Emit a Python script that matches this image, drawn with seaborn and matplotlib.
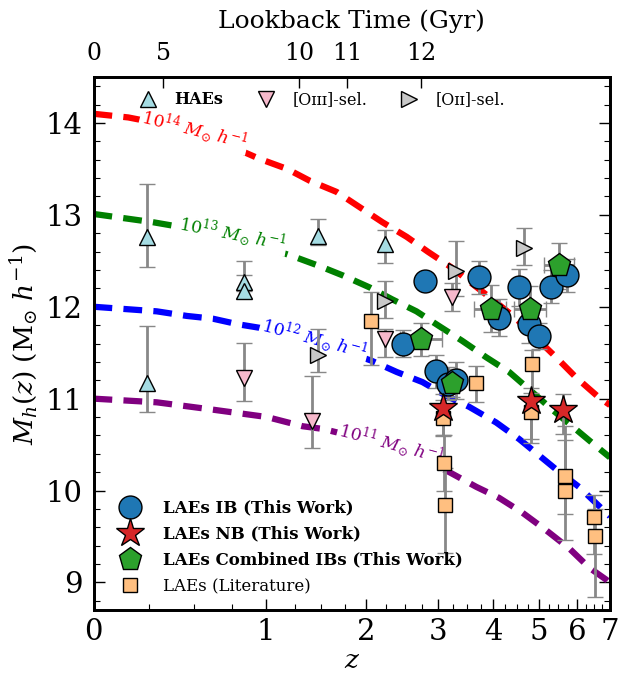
import numpy as np
import pandas as pd
import matplotlib
matplotlib.use("Agg")
import matplotlib.pyplot as plt
import seaborn as sns
from matplotlib.lines import Line2D
from matplotlib.ticker import FixedLocator, MultipleLocator, NullFormatter

# ---------------- data ----------------
# halo-mass growth tracks (log M_h vs z)
z_t14 = [0.0, 0.15, 0.5, 0.95, 1.18, 1.39, 1.66, 2.20, 2.53, 2.84, 3.22, 3.98, 4.44, 5.44, 5.98, 6.66, 7.0]
m_t14 = [14.10, 14.06, 13.92, 13.61, 13.50, 13.37, 13.25, 12.92, 12.76, 12.60, 12.43, 12.08, 11.89, 11.45, 11.23, 11.01, 10.93]
z_t13 = [0.0, 0.27, 0.75, 1.23, 1.49, 1.73, 2.04, 2.33, 2.67, 3.02, 3.41, 3.86, 4.33, 4.78, 5.34, 5.87, 6.44, 7.0]
m_t13 = [13.01, 12.92, 12.77, 12.55, 12.44, 12.34, 12.21, 12.08, 11.95, 11.79, 11.63, 11.45, 11.29, 11.10, 10.88, 10.70, 10.52, 10.36]
z_t12 = [0.0, 0.29, 0.456, 0.617, 0.787, 1.0, 1.43, 2.07, 2.39, 2.76, 3.14, 3.54, 4.06, 4.55, 5.44, 6.06, 6.75, 7.0]
m_t12 = [12.00, 11.95, 11.90, 11.87, 11.81, 11.76, 11.64, 11.41, 11.29, 11.18, 11.03, 10.91, 10.74, 10.56, 10.23, 10.04, 9.80, 9.72]
z_t11 = [0.0, 0.29, 0.617, 1.01, 1.32, 1.52, 2.3, 3.19, 3.67, 4.12, 4.62, 5.18, 5.79, 6.36, 6.88, 7.0]
m_t11 = [11.00, 10.96, 10.88, 10.80, 10.70, 10.67, 10.49, 10.20, 10.04, 9.92, 9.76, 9.57, 9.37, 9.16, 9.03, 8.99]
track_colors = ["red", "green", "blue", "purple"]
track_texts = [r"$\mathit{10^{14}\ M_{\odot}\ h^{-1}}$", r"$\mathit{10^{13}\ M_{\odot}\ h^{-1}}$",
               r"$\mathit{10^{12}\ M_{\odot}\ h^{-1}}$", r"$\mathit{10^{11}\ M_{\odot}\ h^{-1}}$"]
label_z = [0.50, 0.75, 1.43, 2.32]
label_m = [13.93, 12.80, 11.65, 10.51]
label_rot = [-14, -11, -15, -15]

# HAEs
hae_z = [0.24, 0.24, 0.83, 0.83, 1.47, 2.23]
hae_m = [12.76, 11.17, 12.27, 12.17, 12.77, 12.68]
hae_elo = [0.33, 0.32, 0.10, 0.08, 0.10, 0.20]
hae_ehi = [0.58, 0.62, 0.23, 0.17, 0.19, 0.16]
# [OIII]-selected
o3_z = [0.83, 1.41, 2.23, 3.23]
o3_m = [11.23, 10.76, 11.65, 12.11]
o3_elo = [0.26, 0.30, 0.20, 0.16]
o3_ehi = [0.38, 0.49, 0.11, 0.15]
# [OII]-selected
o2_z = [1.47, 2.23, 3.30, 4.66]
o2_m = [11.48, 12.06, 12.39, 12.64]
o2_elo = [0.19, 0.18, 0.27, 0.19]
o2_ehi = [0.28, 0.22, 0.33, 0.22]
# LAEs literature
lit_z = [2.06, 3.08, 3.10, 3.12, 3.67, 4.84, 4.82, 5.68, 5.68, 6.50, 6.53]
lit_m = [11.85, 10.79, 10.30, 9.84, 11.17, 11.38, 10.86, 10.16, 9.99, 9.71, 9.51]
lit_elo = [0.48, 0.20, 0.30, 0.52, 0.21, 0.40, 0.30, 0.42, 0.53, 0.40, 0.67]
lit_ehi = [0.31, 0.20, 0.30, 0.40, 0.19, 0.15, 0.20, 0.54, 0.56, 0.24, 0.29]
# LAEs IB (this work)
ib_z = [2.48, 2.80, 2.97, 3.16, 3.31, 3.73, 4.12, 4.55, 4.78, 5.02, 5.31, 5.74]
ib_m = [11.60, 12.28, 11.30, 11.16, 11.20, 12.32, 11.88, 12.21, 11.81, 11.68, 12.22, 12.34]
ib_err = [0.15, 0.05, 0.18, 0.18, 0.20, 0.18, 0.20, 0.20, 0.20, 0.14, 0.18, 0.18]
# LAEs combined IBs (this work)
cb_z = [2.74, 3.24, 3.95, 4.79, 5.52]
cb_m = [11.65, 11.17, 11.97, 11.97, 12.45]
cb_xlo = [0.30, 0.12, 0.32, 0.35, 0.38]
cb_xhi = [0.33, 0.12, 0.31, 0.39, 0.40]
cb_elo = [0.19, 0.15, 0.24, 0.26, 0.26]
cb_ehi = [0.17, 0.15, 0.27, 0.26, 0.24]
# LAEs NB (this work)
nb_z = [3.08, 4.82, 5.61]
nb_m = [10.90, 10.97, 10.88]
nb_elo = [0.30, 0.45, 0.27]
nb_ehi = [0.15, 0.15, 0.17]

# top axis: lookback time
lbt_labels = ["0", "5", "10", "11", "12"]
lbt_z = [0.0, 0.324, 1.29, 1.78, 2.74]

# ---------------- style ----------------
sns.set_theme(style="ticks")
plt.rcParams["font.family"] = ["DejaVu Serif"]
plt.rcParams["mathtext.fontset"] = "dejavuserif"
plt.rcParams["axes.linewidth"] = 2.0
for k in ["text.color", "axes.labelcolor", "xtick.color", "ytick.color", "axes.edgecolor"]:
    plt.rcParams[k] = "black"

fig = plt.figure(figsize=(6.18, 6.80), dpi=100)
ax = fig.add_axes([93.5 / 618, 1 - 610 / 680, (610 - 93.5) / 618, (610 - 77) / 680])

fwd = lambda z: np.log10(1 + np.asarray(z, dtype=float))
inv = lambda t: 10 ** np.asarray(t, dtype=float) - 1
ax.set_xscale("function", functions=(fwd, inv))

# tracks
tracks = [(z_t14, m_t14), (z_t13, m_t13), (z_t12, m_t12), (z_t11, m_t11)]
for (zz, mm), col in zip(tracks, track_colors):
    df = pd.DataFrame({"z": zz, "logM": mm})
    sns.lineplot(data=df, x="z", y="logM", color=col, lw=4.5, ax=ax, zorder=2, sort=False)
    ax.lines[-1].set_dashes((3.0, 1.8))
    ax.lines[-1].set_dash_capstyle("butt")

for txt, zc, mc, rot, col in zip(track_texts, label_z, label_m, label_rot, track_colors):
    ax.text(zc, mc, txt, color=col, fontsize=12.5, rotation=rot, ha="center", va="center",
            rotation_mode="anchor", zorder=3,
            bbox=dict(facecolor="white", edgecolor="none", pad=1.0))

ekw = dict(ls="none", ecolor="#888888", elinewidth=2.0, capsize=5.5, capthick=1.5,
           mec="black", mew=1.0, zorder=5)

def eb(z, m, elo, ehi, marker, ms, fc, xerr=None):
    ax.errorbar(z, m, yerr=[elo, ehi], xerr=xerr, marker=marker, ms=ms, mfc=fc, **ekw)

eb(hae_z, hae_m, hae_elo, hae_ehi, "^", 11, "#a5dce3")
eb(o3_z, o3_m, o3_elo, o3_ehi, "v", 11, "#f6b8cb")
eb(o2_z, o2_m, o2_elo, o2_ehi, ">", 11, "#c8c8c8")
eb(lit_z, lit_m, lit_elo, lit_ehi, "s", 10.5, "#ffbf80")
eb(ib_z, ib_m, ib_err, ib_err, "o", 16.5, "#1f77b4")
eb(cb_z, cb_m, cb_elo, cb_ehi, "p", 17, "#2ca02c", xerr=[cb_xlo, cb_xhi])
eb(nb_z, nb_m, nb_elo, nb_ehi, "*", 21, "#d62728")

ax.set_xlim(0, 7)
ax.set_ylim(8.7, 14.5)

# ticks
ax.xaxis.set_major_locator(FixedLocator([0, 1, 2, 3, 4, 5, 6, 7]))
ax.set_xticklabels(["0", "1", "2", "3", "4", "5", "6", "7"])
minor_z = [v for v in np.arange(0.25, 7.0, 0.25) if abs(v - round(v)) > 1e-6]
ax.xaxis.set_minor_locator(FixedLocator(minor_z))
ax.xaxis.set_minor_formatter(NullFormatter())
ax.yaxis.set_major_locator(MultipleLocator(1))
ax.yaxis.set_minor_locator(MultipleLocator(0.2))
ax.tick_params(axis="both", which="major", direction="in", length=8, width=1.0, labelsize=21)
ax.tick_params(axis="both", which="minor", direction="in", length=4, width=0.8)
ax.tick_params(axis="x", which="both", top=False, bottom=True, pad=6)
ax.tick_params(axis="y", which="both", left=True, right=True, pad=8)

ax.set_xlabel(r"$z$", fontsize=19, labelpad=1)
ax.set_ylabel(r"$M_h(z)$ $(\mathrm{M}_{\odot}\ h^{-1})$", fontsize=19, labelpad=4)

# top axis
tax = ax.twiny()
tax.set_xscale("function", functions=(fwd, inv))
tax.set_xlim(0, 7)
tax.xaxis.set_major_locator(FixedLocator(lbt_z))
tax.set_xticklabels(lbt_labels)
tax.xaxis.set_minor_locator(FixedLocator([]))
tax.tick_params(axis="x", which="major", direction="in", length=8, width=1.0, labelsize=17, pad=9)
tax.set_xlabel("Lookback Time (Gyr)", fontsize=18, labelpad=10)

# legends
def h(marker, ms, fc):
    return Line2D([], [], ls="none", marker=marker, ms=ms, mfc=fc, mec="black", mew=1.0)

leg1 = ax.legend([h("^", 11, "#a5dce3"), h("v", 11, "#f6b8cb"), h(">", 11, "#c8c8c8")],
                 ["HAEs", "[O\u026a\u026a\u026a]-sel.", "[O\u026a\u026a]-sel."],
                 loc="upper left", bbox_to_anchor=(0.055, 1.0), ncol=3, frameon=False,
                 fontsize=11.5, handletextpad=0.9, columnspacing=1.9, handlelength=1.5)
leg1.get_texts()[0].set_fontweight("bold")
ax.add_artist(leg1)

leg2 = ax.legend([h("o", 16.5, "#1f77b4"), h("*", 21, "#d62728"), h("p", 17, "#2ca02c"), h("s", 10.5, "#ffbf80")],
                 ["LAEs IB (This Work)", "LAEs NB (This Work)", "LAEs Combined IBs (This Work)", "LAEs (Literature)"],
                 loc="lower left", bbox_to_anchor=(0.012, 0.0), frameon=False, fontsize=12,
                 handletextpad=1.1, labelspacing=0.55, handlelength=1.8)
for t in leg2.get_texts()[:3]:
    t.set_fontweight("bold")

fig.savefig("out.png", dpi=100)
